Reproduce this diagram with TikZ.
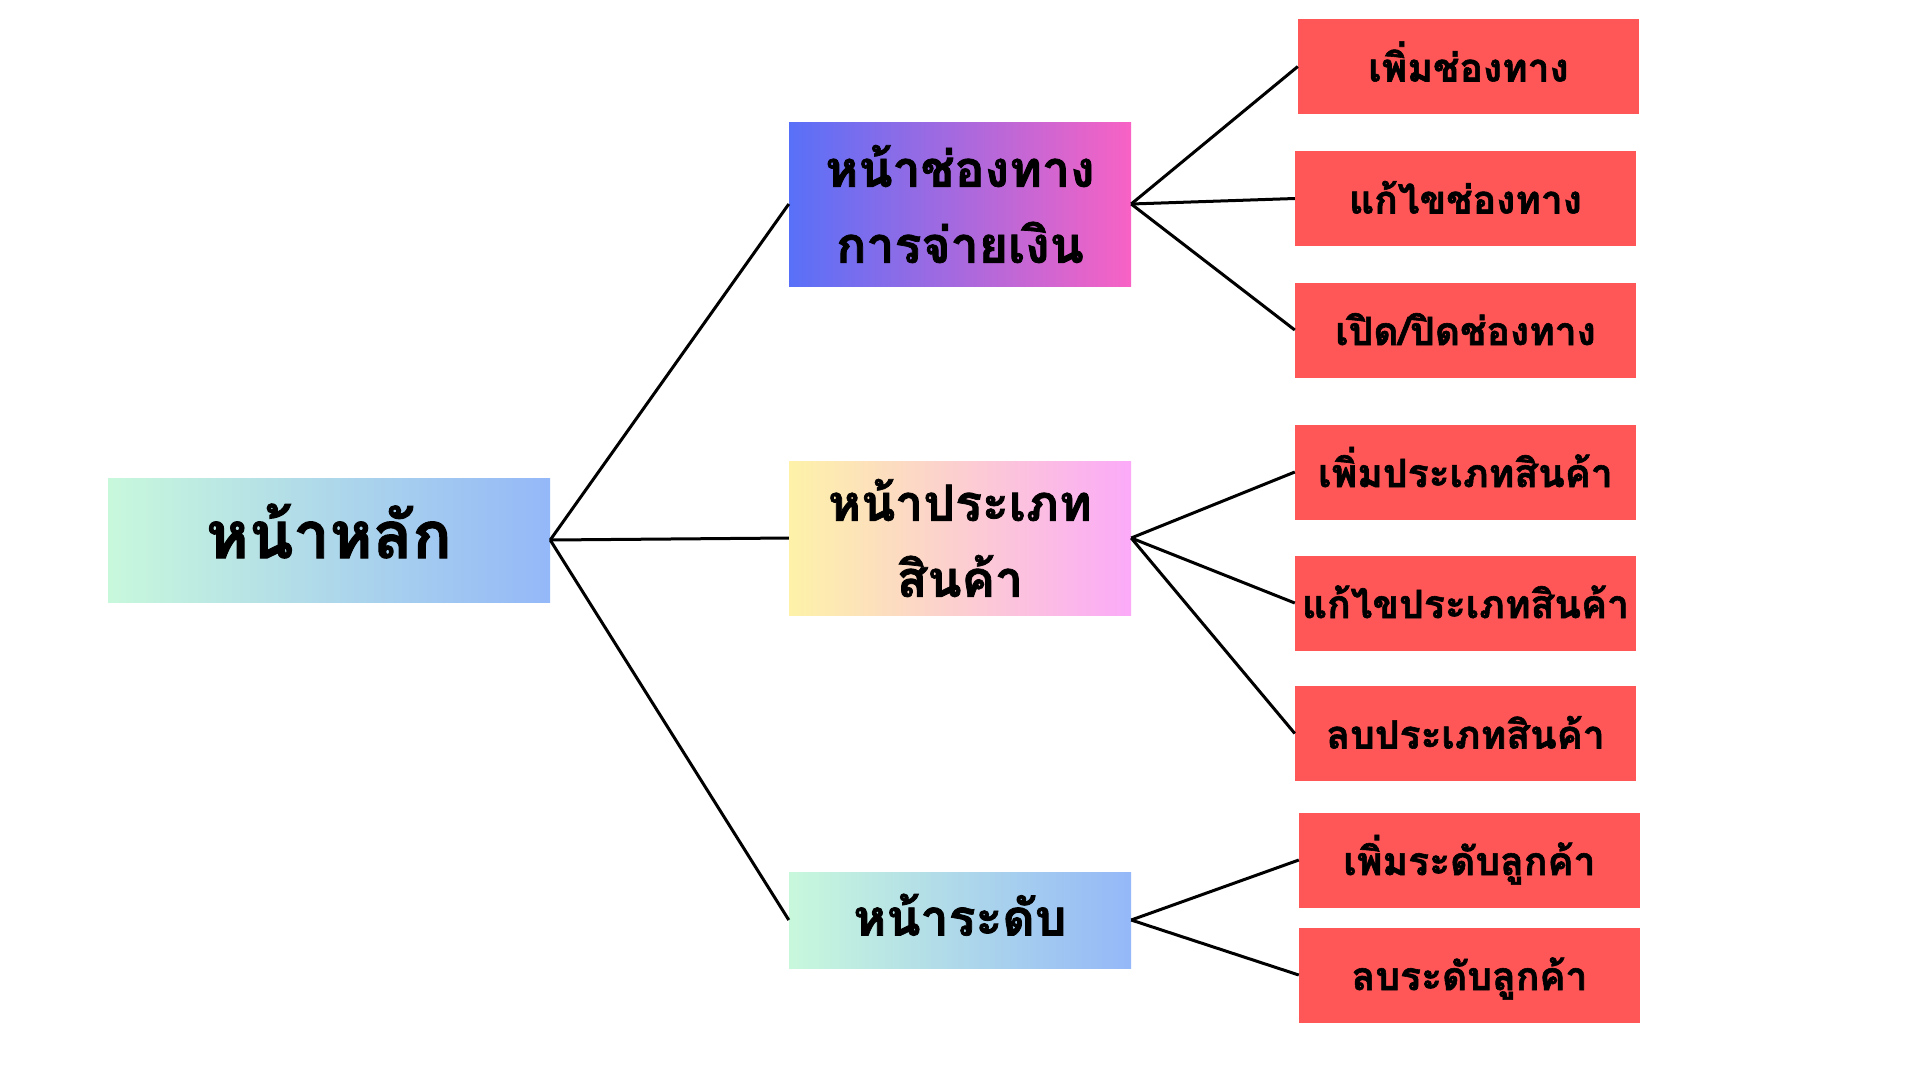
\documentclass[tikz,border=0pt]{standalone}
\usepackage{fontspec}
\newfontfamily\thaifont[Script=Thai,FakeBold=1.5]{Loma}
\begin{document}
\begin{tikzpicture}[x=1pt,y=-1pt,
  box/.style={rectangle,inner sep=0pt,align=center,text=black},
  leaf/.style={box,fill=leafred,minimum width=341pt,minimum height=95pt,text height=30pt,text depth=0pt,font=\thaifont\bfseries\fontsize{39}{48}\selectfont},
  mid/.style={box,minimum width=342pt,font=\thaifont\bfseries\fontsize{50}{76}\selectfont},
  link/.style={draw=black,line width=3pt}]
\definecolor{leafred}{HTML}{FF5757}
\definecolor{mintc}{HTML}{C8F8DC}
\definecolor{bluec}{HTML}{94B8F8}
\definecolor{blueA}{HTML}{5870F8}
\definecolor{pinkA}{HTML}{F862C4}
\definecolor{yelB}{HTML}{FDF2A8}
\definecolor{pinkB}{HTML}{FBAAF8}
\useasboundingbox (0,0) rectangle (1920,1080);
\fill[white] (0,0) rectangle (1920,1080);
\node[box,left color=mintc,right color=bluec,minimum width=442pt,minimum height=124pt,text height=36pt,text depth=0pt,font=\thaifont\bfseries\fontsize{65}{70}\selectfont] (main) at (329,540) {หน้าหลัก};
\node[mid,left color=blueA,right color=pinkA,minimum height=164pt] (p1) at (960,204) {หน้าช่องทาง\\การจ่ายเงิน};
\node[mid,left color=yelB,right color=pinkB,minimum height=154pt] (p2) at (960,538) {หน้าประเภท\\สินค้า};
\node[mid,left color=mintc,right color=bluec,minimum height=96pt,text height=31pt,text depth=0pt] (p3) at (960,920) {หน้าระดับ};
\node[leaf] (l1) at (1468.5,66.5) {เพิ่มช่องทาง};
\node[leaf] (l2) at (1465.5,198.5) {แก้ไขช่องทาง};
\node[leaf] (l3) at (1465.5,330) {เปิด/ปิดช่องทาง};
\node[leaf] (l4) at (1465.5,472) {เพิ่มประเภทสินค้า};
\node[leaf] (l5) at (1465.5,603) {แก้ไขประเภทสินค้า};
\node[leaf] (l6) at (1465.5,733.5) {ลบประเภทสินค้า};
\node[leaf] (l7) at (1469.5,860) {เพิ่มระดับลูกค้า};
\node[leaf] (l8) at (1469.5,975) {ลบระดับลูกค้า};
\draw[link] (main.east) -- (p1.west);
\draw[link] (main.east) -- (p2.west);
\draw[link] (main.east) -- (p3.west);
\draw[link] (p1.east) -- (l1.west);
\draw[link] (p1.east) -- (l2.west);
\draw[link] (p1.east) -- (l3.west);
\draw[link] (p2.east) -- (l4.west);
\draw[link] (p2.east) -- (l5.west);
\draw[link] (p2.east) -- (l6.west);
\draw[link] (p3.east) -- (l7.west);
\draw[link] (p3.east) -- (l8.west);
\end{tikzpicture}
\end{document}
